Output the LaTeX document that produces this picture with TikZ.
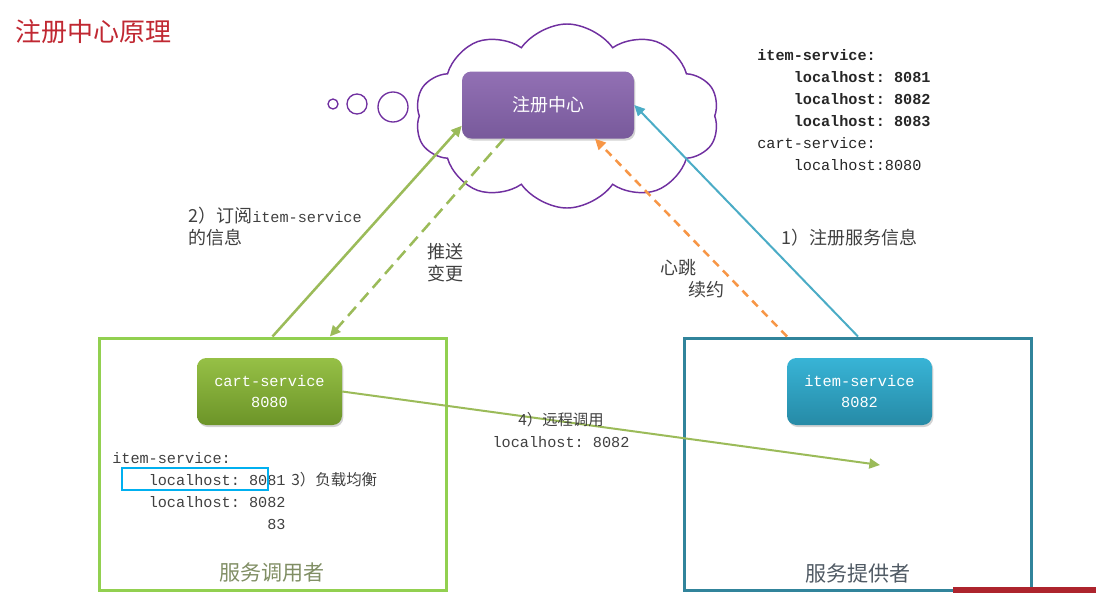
\documentclass[tikz,border=0pt]{standalone}
\usepackage{fontspec}
\setmainfont{Noto Sans CJK SC}
\setmonofont{Liberation Mono}
\usetikzlibrary{arrows.meta, shapes.symbols, shadows}

\definecolor{titlered}{RGB}{192,40,50}
\definecolor{cloudpurple}{RGB}{112,48,160}
\definecolor{regtop}{RGB}{146,112,180}
\definecolor{regbottom}{RGB}{120,90,155}
\definecolor{carttop}{RGB}{150,192,70}
\definecolor{cartbottom}{RGB}{108,148,40}
\definecolor{itemtop}{RGB}{56,180,214}
\definecolor{itembottom}{RGB}{38,138,166}
\definecolor{consgreen}{RGB}{146,208,80}
\definecolor{provteal}{RGB}{49,132,155}
\definecolor{linkgreen}{RGB}{155,187,89}
\definecolor{linkteal}{RGB}{75,172,198}
\definecolor{linkorange}{RGB}{247,150,70}
\definecolor{lbblue}{RGB}{0,176,240}
\definecolor{labelgray}{RGB}{64,64,64}
\definecolor{consname}{RGB}{128,142,100}
\definecolor{provname}{RGB}{80,90,100}

\newcommand\codefont{\ttfamily\fontsize{11.4}{16.5}\selectfont}

\tikzset{
  svcbox/.style={rounded corners=7pt, minimum width=108.75pt, minimum height=50.25pt,
    text=white, font=\ttfamily\fontsize{11.5}{16}\selectfont, align=center,
    drop shadow={opacity=0.35, shadow xshift=1pt, shadow yshift=-1.5pt}},
  area/.style={draw, line width=2.25pt, minimum width=260.25pt, minimum height=189pt},
  bubble/.style={circle, draw=cloudpurple, line width=1pt, inner sep=0pt},
  lbl/.style={text=labelgray, font=\fontsize{13.5}{16.5}\selectfont, align=left, inner sep=0pt},
  code/.style={text=labelgray, font=\codefont, align=left, inner sep=0pt},
  link/.style={line width=1.9pt, -{Triangle[length=8pt,width=7.5pt]}},
}

\begin{document}
\begin{tikzpicture}[x=0.75pt, y=-0.75pt]
  \useasboundingbox (0,0) rectangle (1096,593);
  % title
  \node[anchor=west, text=titlered, font=\fontsize{19.5}{22}\selectfont, inner sep=0pt] (title) at (15,32) {注册中心原理};

  % registry in its cloud
  \node[cloud, cloud puffs=10, cloud puff arc=110, aspect=1.7, draw=cloudpurple, line width=1.1pt,
    minimum width=228pt, minimum height=138pt] (cloud) at (567,116) {};
  \node[bubble, minimum size=7.5pt] (bubble1) at (333,104) {};
  \node[bubble, minimum size=15pt] (bubble2) at (357,104) {};
  \node[bubble, minimum size=22.5pt] (bubble3) at (393,107) {};
  \node[svcbox, top color=regtop, bottom color=regbottom, minimum width=129pt,
    font=\fontsize{13.5}{16}\selectfont] (reg) at (548,105) {注册中心};
  \node[code, anchor=west, text=black!85] (regtable) at (757,110)
    {\bfseries item-service:\\
     \bfseries\hphantom{0000}localhost: 8081\\
     \bfseries\hphantom{0000}localhost: 8082\\
     \bfseries\hphantom{0000}localhost: 8083\\
     cart-service:\\
     \hphantom{0000}localhost:8080};

  % consumer and provider
  \node[area, draw=consgreen] (consumer) at (272.5,464) {};
  \node[area, draw=provteal] (provider) at (858,464) {};
  \node[svcbox, top color=carttop, bottom color=cartbottom] (cart) at (269.5,391.5) {cart-service\\8080};
  \node[svcbox, top color=itemtop, bottom color=itembottom] (item) at (859.5,391.5) {item-service\\8082};
  \node[text=consname, font=\fontsize{15.8}{18}\selectfont] (consname) at (272,573) {服务调用者};
  \node[text=provname, font=\fontsize{15.8}{18}\selectfont] (provname) at (858,573) {服务提供者};

  % local list in cart-service
  \node[code, anchor=west] (cartlist) at (112,491)
    {item-service:\\
     \hphantom{0000}localhost: 8081\\
     \hphantom{0000}localhost: 8082\\
     \hphantom{0000localhost: 80}83};
  \draw[lbblue, line width=0.8pt] (122,468) rectangle (268,490);
  \node[lbl, anchor=west, font=\fontsize{11.6}{14}\selectfont] (balance) at (291,480) {3）负载均衡};

  % connectors
  \draw[link, linkteal, line width=1.5pt] (provider.north) -- (reg.east);
  \draw[link, linkorange, dash pattern=on 6pt off 4.5pt] ([xshift=-53.25pt]provider.north) -- ([xshift=35.25pt]reg.south);
  \draw[link, linkgreen] (consumer.north) -- ([yshift=9.75pt]reg.south west);
  \draw[link, linkgreen, dash pattern=on 9pt off 5pt] ([xshift=-33pt]reg.south) -- ([xshift=43pt]consumer.north);
  \coordinate (callend) at (880,465);
  \draw[link, linkgreen, line width=1.5pt] (cart.east) -- (callend);

  % labels
  \node[lbl, anchor=west] (subscribe) at (188,227) {2）订阅{\codefont item-service}\\的信息};
  \node[lbl, anchor=west] (push) at (427,263) {推送\\变更};
  \node[lbl, anchor=west] (beat) at (660,279) {心跳\\\hspace*{21pt}续约};
  \node[lbl, anchor=west] (register) at (781,238) {1）注册服务信息};
  \node[lbl, align=center, font=\fontsize{11.5}{17}\selectfont] (call) at (561,430) {4）远程调用\\{\codefont localhost: 8082}};

  % footer strip
  \fill[titlered!90!black] (953,587) rectangle (1096,593);
\end{tikzpicture}
\end{document}
